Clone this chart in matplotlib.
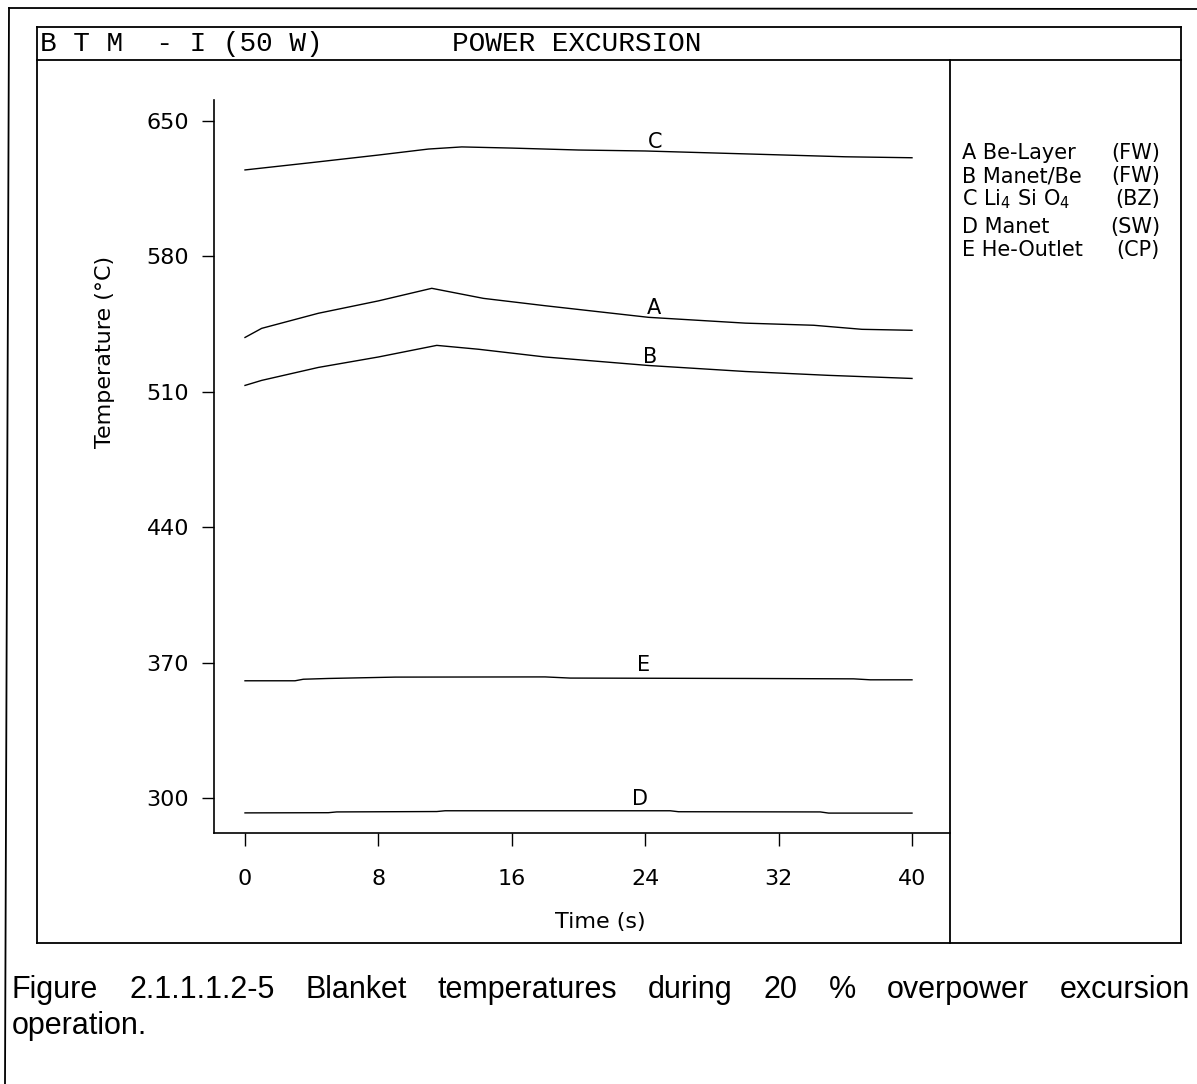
"""Blanket temperatures during power excursion (BTM-I, 50 W)"""

import matplotlib
matplotlib.use("Agg")
import matplotlib.pyplot as plt
from matplotlib.lines import Line2D

W, H = 1197, 1084
DPI = 100

# -----------------------------------------------------------------------------
# Data (time in s, temperature in degC)
TIME_A = [0, 1, 4.4, 8, 11.2, 14.3, 18, 24.2, 30, 34.1, 37, 40]
TEMP_A = [538.1, 542.8, 550.6, 557.0, 563.5, 558.3, 554.5, 548.5, 545.5,
          544.4, 542.3, 541.8]

TIME_B = [0, 1, 4.4, 8, 11.5, 14, 18, 24.2, 30, 35, 40]
TEMP_B = [513.3, 515.9, 522.6, 528.0, 534.0, 532.0, 528.0, 523.6, 520.5,
          518.5, 516.9]

TIME_C = [0, 4, 8, 11, 13, 16, 20, 24, 28, 32, 36, 40]
TEMP_C = [624.7, 628.5, 632.4, 635.5, 636.6, 636.0, 635.0, 634.5, 633.5,
          632.5, 631.5, 631.0]

TIME_D = [0, 5, 5.5, 11.5, 12, 25.5, 26, 34.5, 35, 40]
TEMP_D = [292.3, 292.4, 292.8, 293.0, 293.4, 293.4, 292.9, 292.8, 292.2,
          292.2]

TIME_E = [0, 3, 3.5, 5, 9, 18, 19.5, 30, 36.5, 37.5, 40]
TEMP_E = [360.6, 360.6, 361.4, 361.8, 362.5, 362.6, 362.0, 361.8, 361.6,
          361.1, 361.1]

CURVE_TAGS = ["A", "B", "C", "D", "E"]
TAG_POS_T = [24.5, 24.3, 24.6, 23.7, 23.9]
TAG_POS_Y = [550.2, 524.9, 636.0, 296.4, 365.6]

LEGEND_NAMES = ["A Be-Layer", "B Manet/Be", r"C Li$_4$ Si O$_4$",
                "D Manet", "E He-Outlet"]
LEGEND_ZONES = ["(FW)", "(FW)", "(BZ)", "(SW)", "(CP)"]

X_TICKS = [0, 8, 16, 24, 32, 40]
Y_TICKS = [300, 370, 440, 510, 580, 650]

HEADER_LEFT = "B T M  - I (50 W)"
HEADER_RIGHT = "POWER EXCURSION"
CAPTION_1 = ("Figure 2.1.1.1.2-5 Blanket temperatures during 20 % "
             "overpower excursion")
CAPTION_2 = "operation."

plt.rcParams["mathtext.fontset"] = "dejavusans"


def fx(px):
    return px / W


def fy(py):
    return 1 - py / H


def frame_line(fig, x0, y0, x1, y1, lw=1.3):
    fig.add_artist(Line2D([fx(x0), fx(x1)], [fy(y0), fy(y1)],
                          transform=fig.transFigure, color="black",
                          linewidth=lw))


# =============================================================================
fig = plt.figure(figsize=(W / DPI, H / DPI), dpi=DPI)

# Frames (outer page frame, inner plot box, header row, legend column)
frame_line(fig, 9, 8, W, 9)
frame_line(fig, 9, 8, 5, H)
frame_line(fig, 37, 27, 1181, 27)
frame_line(fig, 37, 27, 37, 943)
frame_line(fig, 1181, 27, 1181, 943)
frame_line(fig, 37, 943, 1181, 943)
frame_line(fig, 37, 60, 1181, 60)
frame_line(fig, 950, 60, 950, 943)

# Header
fig.text(fx(40), fy(44), HEADER_LEFT, family="Liberation Mono", fontsize=20,
         va="center", ha="left")
fig.text(fx(452), fy(44), HEADER_RIGHT, family="Liberation Mono",
         fontsize=20, va="center", ha="left")

# -----------------------------------------------------------------------------
# Axes
ax_l, ax_r, ax_t, ax_b = 214, 950, 100, 833
ax = fig.add_axes([fx(ax_l), fy(ax_b), fx(ax_r) - fx(ax_l),
                   fy(ax_t) - fy(ax_b)])
x0_px, x40_px = 245, 912
px_per_s = (x40_px - x0_px) / 40.0
y650_px, y300_px = 121, 798
px_per_deg = (y300_px - y650_px) / 350.0
ax.set_xlim((ax_l - x0_px) / px_per_s, (ax_r - x0_px) / px_per_s)
ax.set_ylim(300 - (ax_b - y300_px) / px_per_deg,
            650 + (y650_px - ax_t) / px_per_deg)

for side in ["top", "right"]:
    ax.spines[side].set_visible(False)
for side in ["left", "bottom"]:
    ax.spines[side].set_linewidth(1.2)

ax.set_xticks(X_TICKS)
ax.set_yticks(Y_TICKS)
ax.tick_params(axis="both", direction="out", length=9, width=1.0,
               labelsize=16)
ax.tick_params(axis="y", pad=9)
ax.tick_params(axis="x", pad=17)

ax.set_xlabel("Time (s)", fontsize=16)
ax.xaxis.set_label_coords((600 - ax_l) / (ax_r - ax_l),
                          (ax_b - 922) / (ax_b - ax_t))
ax.xaxis.label.set_va("center")
ax.set_ylabel("Temperature (°C)", fontsize=16)
ax.yaxis.set_label_coords((105 - ax_l) / (ax_r - ax_l),
                          (ax_b - 352) / (ax_b - ax_t))
ax.yaxis.label.set_va("center")

curves = [(TIME_A, TEMP_A), (TIME_B, TEMP_B), (TIME_C, TEMP_C),
          (TIME_D, TEMP_D), (TIME_E, TEMP_E)]
for (t, y) in curves:
    ax.plot(t, y, "-", color="black", linewidth=1.0)

for i in range(len(CURVE_TAGS)):
    ax.text(TAG_POS_T[i], TAG_POS_Y[i], CURVE_TAGS[i], fontsize=15,
            ha="center", va="baseline")

# -----------------------------------------------------------------------------
# Legend column
leg_base = [159, 182, 205, 233, 256]
for i in range(len(LEGEND_NAMES)):
    fig.text(fx(962), fy(leg_base[i]), LEGEND_NAMES[i], fontsize=15,
             ha="left", va="baseline")
    fig.text(fx(1160), fy(leg_base[i]), LEGEND_ZONES[i], fontsize=15,
             ha="right", va="baseline")

# -----------------------------------------------------------------------------
# Caption, first line justified between the frame edges
words = CAPTION_1.split()
txts = [fig.text(0, fy(998), w, family="Liberation Sans", fontsize=22,
                 ha="left", va="baseline") for w in words]
fig.canvas.draw()
renderer = fig.canvas.get_renderer()
widths = [t.get_window_extent(renderer).width for t in txts]
left, right = 12, 1190
gap = (right - left - sum(widths)) / (len(words) - 1)
x = left
for t, w in zip(txts, widths):
    t.set_x(fx(x))
    x += w + gap
fig.text(fx(left), fy(1034), CAPTION_2, family="Liberation Sans",
         fontsize=22, ha="left", va="baseline")

plt.savefig("out.png", dpi=DPI)
